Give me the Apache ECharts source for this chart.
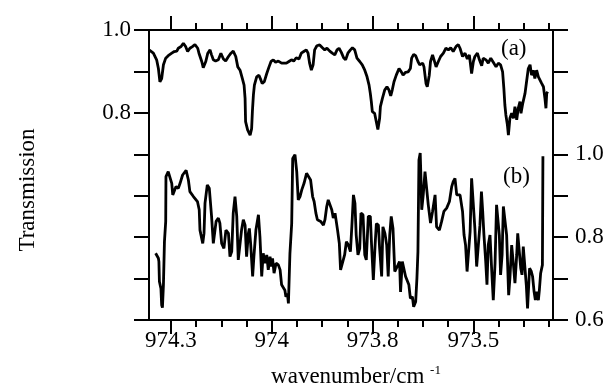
<!DOCTYPE html>
<html>
<head>
<meta charset="utf-8">
<title>Transmission</title>
<script src="https://cdn.jsdelivr.net/npm/echarts@6/dist/echarts.min.js"></script>
<style>
  html, body { margin: 0; padding: 0; background: #fff; }
  #chart { width: 613px; height: 389px; }
</style>
</head>
<body>
<div id="chart"></div>
<script>
// x is measured in minor tick steps, 0 = the "974.3" tick
const xTickLabels = ['974.3', '974', '973.8', '973.5']
const xMajorTicks = [0, 4, 8, 12]
const xMinorTicks = [1, 2, 3, 5, 6, 7, 9, 10, 11, 13, 14, 15]
const leftLabels = [0.8, 1.0]
const rightLabels = [0.6, 0.8, 1.0]

// trace (a), left axis
const aX = [-0.87, -0.70, -0.57, -0.50, -0.44, -0.37, -0.30, -0.21, -0.11, -0.04, 0.03, 0.13, 0.23, 0.29, 0.40, 0.49, 0.58, 0.66, 0.75, 0.85,
  0.95, 1.06, 1.11, 1.22, 1.28, 1.38, 1.46, 1.55, 1.61, 1.68, 1.77, 1.88, 1.98, 2.08, 2.17, 2.28, 2.38, 2.47, 2.57, 2.65,
  2.74, 2.83, 2.90, 2.94, 2.96, 3.04, 3.14, 3.20, 3.23, 3.27, 3.31, 3.40, 3.49, 3.57, 3.62, 3.70, 3.80, 3.89, 3.97, 4.06,
  4.15, 4.26, 4.39, 4.58, 4.68, 4.78, 4.87, 4.97, 5.08, 5.17, 5.27, 5.37, 5.44, 5.50, 5.57, 5.64, 5.70, 5.79, 5.90, 6.01,
  6.10, 6.19, 6.30, 6.40, 6.50, 6.59, 6.67, 6.76, 6.85, 6.93, 7.02, 7.12, 7.20, 7.29, 7.38, 7.49, 7.59, 7.69, 7.78, 7.86,
  7.91, 7.95, 7.99, 8.08, 8.15, 8.21, 8.28, 8.31, 8.39, 8.48, 8.57, 8.65, 8.72, 8.78, 8.85, 8.94, 9.05, 9.14, 9.21, 9.31,
  9.41, 9.50, 9.55, 9.63, 9.71, 9.80, 9.87, 9.99, 10.04, 10.12, 10.17, 10.25, 10.30, 10.38, 10.44, 10.52, 10.61, 10.70, 10.81, 10.91,
  11.01, 11.10, 11.20, 11.31, 11.40, 11.47, 11.57, 11.67, 11.76, 11.84, 11.93, 12.00, 12.06, 12.16, 12.24, 12.33, 12.39, 12.50, 12.59, 12.69,
  12.79, 12.90, 12.99, 13.08, 13.16, 13.21, 13.25, 13.29, 13.35, 13.39, 13.45, 13.52, 13.59, 13.65, 13.72, 13.78, 13.85, 13.89, 13.96, 14.05,
  14.11, 14.18, 14.25, 14.31, 14.38, 14.44, 14.51, 14.58, 14.64, 14.71, 14.78, 14.84, 14.88, 14.91, 14.95]
const aY = [0.952, 0.944, 0.928, 0.907, 0.875, 0.883, 0.916, 0.932, 0.938, 0.936, 0.944, 0.948, 0.949, 0.956, 0.960, 0.968, 0.960, 0.948, 0.956, 0.960,
  0.965, 0.956, 0.944, 0.924, 0.909, 0.924, 0.944, 0.952, 0.940, 0.928, 0.925, 0.928, 0.944, 0.930, 0.925, 0.936, 0.944, 0.949, 0.936, 0.911,
  0.903, 0.883, 0.867, 0.835, 0.779, 0.759, 0.746, 0.762, 0.803, 0.843, 0.867, 0.887, 0.891, 0.879, 0.871, 0.875, 0.895, 0.911, 0.924, 0.928,
  0.922, 0.925, 0.920, 0.920, 0.924, 0.928, 0.925, 0.933, 0.930, 0.944, 0.948, 0.952, 0.944, 0.920, 0.903, 0.916, 0.952, 0.962, 0.964, 0.957,
  0.952, 0.956, 0.949, 0.944, 0.940, 0.952, 0.956, 0.946, 0.933, 0.928, 0.944, 0.952, 0.957, 0.952, 0.932, 0.924, 0.916, 0.903, 0.887, 0.867,
  0.847, 0.827, 0.803, 0.799, 0.801, 0.760, 0.787, 0.815, 0.835, 0.855, 0.863, 0.855, 0.841, 0.855, 0.875, 0.891, 0.907, 0.899, 0.891, 0.898,
  0.899, 0.907, 0.932, 0.941, 0.938, 0.924, 0.916, 0.920, 0.911, 0.871, 0.863, 0.891, 0.924, 0.940, 0.928, 0.911, 0.924, 0.936, 0.944, 0.956,
  0.952, 0.957, 0.948, 0.960, 0.965, 0.956, 0.936, 0.944, 0.930, 0.940, 0.895, 0.924, 0.936, 0.944, 0.928, 0.914, 0.932, 0.928, 0.920, 0.932,
  0.922, 0.911, 0.920, 0.916, 0.899, 0.859, 0.819, 0.795, 0.771, 0.746, 0.787, 0.799, 0.787, 0.815, 0.783, 0.811, 0.827, 0.799, 0.823, 0.847,
  0.875, 0.907, 0.916, 0.891, 0.903, 0.883, 0.903, 0.887, 0.891, 0.871, 0.863, 0.835, 0.811, 0.847, 0.851]

// trace (b), right axis
const bX = [-0.61, -0.50, -0.48, -0.46, -0.40, -0.37, -0.34, -0.30, -0.26, -0.21, -0.20, -0.11, 0.03, 0.07, 0.12, 0.20, 0.29, 0.36, 0.46, 0.60,
  0.69, 0.75, 0.89, 1.05, 1.12, 1.15, 1.26, 1.31, 1.35, 1.44, 1.52, 1.61, 1.68, 1.79, 1.88, 1.94, 2.01, 2.10, 2.18, 2.28,
  2.34, 2.41, 2.47, 2.54, 2.61, 2.67, 2.74, 2.80, 2.87, 2.94, 3.00, 3.07, 3.11, 3.16, 3.24, 3.29, 3.37, 3.47, 3.53, 3.60,
  3.66, 3.73, 3.80, 3.86, 3.93, 3.99, 4.03, 4.09, 4.17, 4.26, 4.33, 4.39, 4.46, 4.52, 4.56, 4.62, 4.66, 4.72, 4.79, 4.83,
  4.92, 4.99, 5.05, 5.12, 5.19, 5.28, 5.38, 5.45, 5.54, 5.62, 5.68, 5.75, 5.81, 5.94, 6.05, 6.11, 6.18, 6.24, 6.31, 6.38,
  6.44, 6.51, 6.57, 6.61, 6.68, 6.73, 6.80, 6.89, 6.96, 7.04, 7.12, 7.18, 7.24, 7.30, 7.35, 7.42, 7.49, 7.54, 7.62, 7.69,
  7.75, 7.83, 7.91, 7.96, 8.03, 8.10, 8.15, 8.23, 8.28, 8.36, 8.41, 8.49, 8.56, 8.62, 8.68, 8.74, 8.81, 8.88, 8.94, 9.01,
  9.07, 9.11, 9.18, 9.25, 9.31, 9.38, 9.44, 9.50, 9.58, 9.63, 9.71, 9.76, 9.80, 9.84, 9.89, 9.92, 9.95, 10.01, 10.08, 10.15,
  10.21, 10.30, 10.38, 10.48, 10.54, 10.65, 10.74, 10.83, 10.94, 11.05, 11.14, 11.20, 11.27, 11.34, 11.47, 11.53, 11.57, 11.63, 11.69, 11.75,
  11.81, 11.87, 11.93, 12.00, 12.06, 12.13, 12.20, 12.26, 12.32, 12.37, 12.42, 12.49, 12.54, 12.59, 12.66, 12.73, 12.79, 12.86, 12.92, 12.99,
  13.03, 13.08, 13.14, 13.19, 13.25, 13.32, 13.40, 13.45, 13.52, 13.59, 13.65, 13.72, 13.76, 13.82, 13.88, 13.93, 13.98, 14.05, 14.10, 14.15,
  14.23, 14.30, 14.35, 14.41, 14.46, 14.51, 14.58, 14.62, 14.67, 14.74, 14.76]
const bY = [0.761, 0.749, 0.741, 0.693, 0.676, 0.636, 0.630, 0.685, 0.789, 0.838, 0.946, 0.958, 0.930, 0.902, 0.898, 0.922, 0.918, 0.930, 0.950, 0.961,
  0.938, 0.910, 0.898, 0.886, 0.866, 0.817, 0.785, 0.809, 0.882, 0.926, 0.918, 0.850, 0.785, 0.838, 0.846, 0.834, 0.785, 0.773, 0.817, 0.809,
  0.753, 0.765, 0.858, 0.898, 0.850, 0.745, 0.741, 0.817, 0.842, 0.829, 0.753, 0.809, 0.821, 0.785, 0.705, 0.753, 0.817, 0.854, 0.801, 0.705,
  0.761, 0.737, 0.757, 0.721, 0.753, 0.729, 0.749, 0.713, 0.737, 0.733, 0.721, 0.685, 0.681, 0.672, 0.656, 0.664, 0.640, 0.761, 0.833, 0.990,
  0.999, 0.958, 0.890, 0.898, 0.914, 0.930, 0.954, 0.958, 0.938, 0.898, 0.886, 0.858, 0.842, 0.838, 0.829, 0.842, 0.874, 0.890, 0.886, 0.866,
  0.846, 0.858, 0.862, 0.817, 0.785, 0.721, 0.725, 0.757, 0.789, 0.781, 0.765, 0.829, 0.902, 0.882, 0.805, 0.757, 0.773, 0.858, 0.854, 0.757,
  0.745, 0.850, 0.850, 0.781, 0.697, 0.781, 0.833, 0.829, 0.773, 0.705, 0.825, 0.809, 0.781, 0.705, 0.805, 0.850, 0.821, 0.717, 0.713, 0.733,
  0.741, 0.668, 0.741, 0.737, 0.705, 0.701, 0.685, 0.652, 0.656, 0.632, 0.644, 0.701, 0.765, 0.986, 1.003, 0.942, 0.866, 0.902, 0.958, 0.954,
  0.878, 0.834, 0.862, 0.902, 0.825, 0.817, 0.838, 0.862, 0.870, 0.886, 0.922, 0.934, 0.942, 0.902, 0.902, 0.898, 0.862, 0.805, 0.781, 0.717,
  0.717, 0.813, 0.942, 0.938, 0.821, 0.729, 0.729, 0.829, 0.910, 0.862, 0.805, 0.741, 0.685, 0.781, 0.805, 0.717, 0.648, 0.737, 0.878, 0.874,
  0.805, 0.709, 0.757, 0.874, 0.870, 0.805, 0.660, 0.701, 0.781, 0.733, 0.689, 0.757, 0.809, 0.805, 0.725, 0.709, 0.777, 0.781, 0.685, 0.628,
  0.725, 0.717, 0.705, 0.668, 0.648, 0.668, 0.648, 0.673, 0.713, 0.733, 0.995]

const FONT = "'Liberation Serif', 'Times New Roman', serif"
const FS = 23
const INK = '#000'

const zip = (xs, ys) => xs.map((x, i) => [x, ys[i]])

const xBase = {
  type: 'value',
  min: -0.873,
  max: 15.16,
  splitLine: { show: false },
  axisLine: { show: true, onZero: false, lineStyle: { color: INK, width: 2 } }
}

const xAxisFor = (position, ticks, len, withLine) => ({
  ...xBase,
  position,
  axisLine: { ...xBase.axisLine, show: withLine },
  axisTick: { customValues: ticks, length: len, lineStyle: { color: INK, width: 2 } },
  axisLabel: { show: false }
})

const yAxisFor = (position, min, max, labels) => ({
  type: 'value',
  position,
  min,
  max,
  interval: 0.1,
  splitLine: { show: false },
  axisLine: { show: true, onZero: false, lineStyle: { color: INK, width: 2 } },
  axisTick: { length: 15, lineStyle: { color: INK, width: 2 } },
  axisLabel: {
    customValues: labels,
    formatter: v => v.toFixed(1),
    color: INK,
    fontFamily: FONT,
    fontSize: FS,
    margin: position === 'left' ? 18 : 22
  }
})

const chart = echarts.init(document.getElementById('chart'))

const bottomMajor = xAxisFor('bottom', xMajorTicks, 14, true)
bottomMajor.axisLabel = {
  customValues: xMajorTicks,
  formatter: v => xTickLabels[xMajorTicks.indexOf(Math.round(v))],
  color: INK,
  fontFamily: FONT,
  fontSize: FS,
  margin: 9
}
bottomMajor.name = '{n|wavenumber/cm }{s|-1}'
bottomMajor.nameLocation = 'middle'
bottomMajor.nameGap = 44
bottomMajor.nameTextStyle = {
  padding: [0, 0, 0, 10],
  rich: {
    n: { fontFamily: FONT, fontSize: FS, color: INK, lineHeight: 26 },
    s: { fontFamily: FONT, fontSize: 13, color: INK, lineHeight: 26, verticalAlign: 'top' }
  }
}

chart.setOption({
  animation: false,
  backgroundColor: '#fff',
  grid: { left: 149, right: 60, top: 30, bottom: 69, containLabel: false, outerBoundsMode: 'none' },
  xAxis: [
    bottomMajor,
    xAxisFor('bottom', xMinorTicks, 7, false),
    xAxisFor('top', xMajorTicks, 14, true),
    xAxisFor('top', xMinorTicks, 7, false)
  ],
  yAxis: [
    yAxisFor('left', 0.3, 1.0, leftLabels),
    yAxisFor('right', 0.6, 1.3, rightLabels)
  ],
  graphic: [
    {
      type: 'text', x: 28, y: 190, rotation: Math.PI / 2,
      style: { text: 'Transmission', font: `${FS}px ${FONT}`, fill: INK, align: 'center', verticalAlign: 'middle' }
    },
    { type: 'text', left: 501, top: 37, style: { text: '(a)', font: `${FS}px ${FONT}`, fill: INK } },
    { type: 'text', left: 503, top: 165, style: { text: '(b)', font: `${FS}px ${FONT}`, fill: INK } }
  ],
  series: [
    {
      name: '(a)',
      type: 'line',
      xAxisIndex: 0,
      yAxisIndex: 0,
      data: zip(aX, aY),
      showSymbol: false,
      lineStyle: { color: INK, width: 2.8 }
    },
    {
      name: '(b)',
      type: 'line',
      xAxisIndex: 0,
      yAxisIndex: 1,
      data: zip(bX, bY),
      showSymbol: false,
      lineStyle: { color: INK, width: 2.8 }
    }
  ]
})
</script>
</body>
</html>
